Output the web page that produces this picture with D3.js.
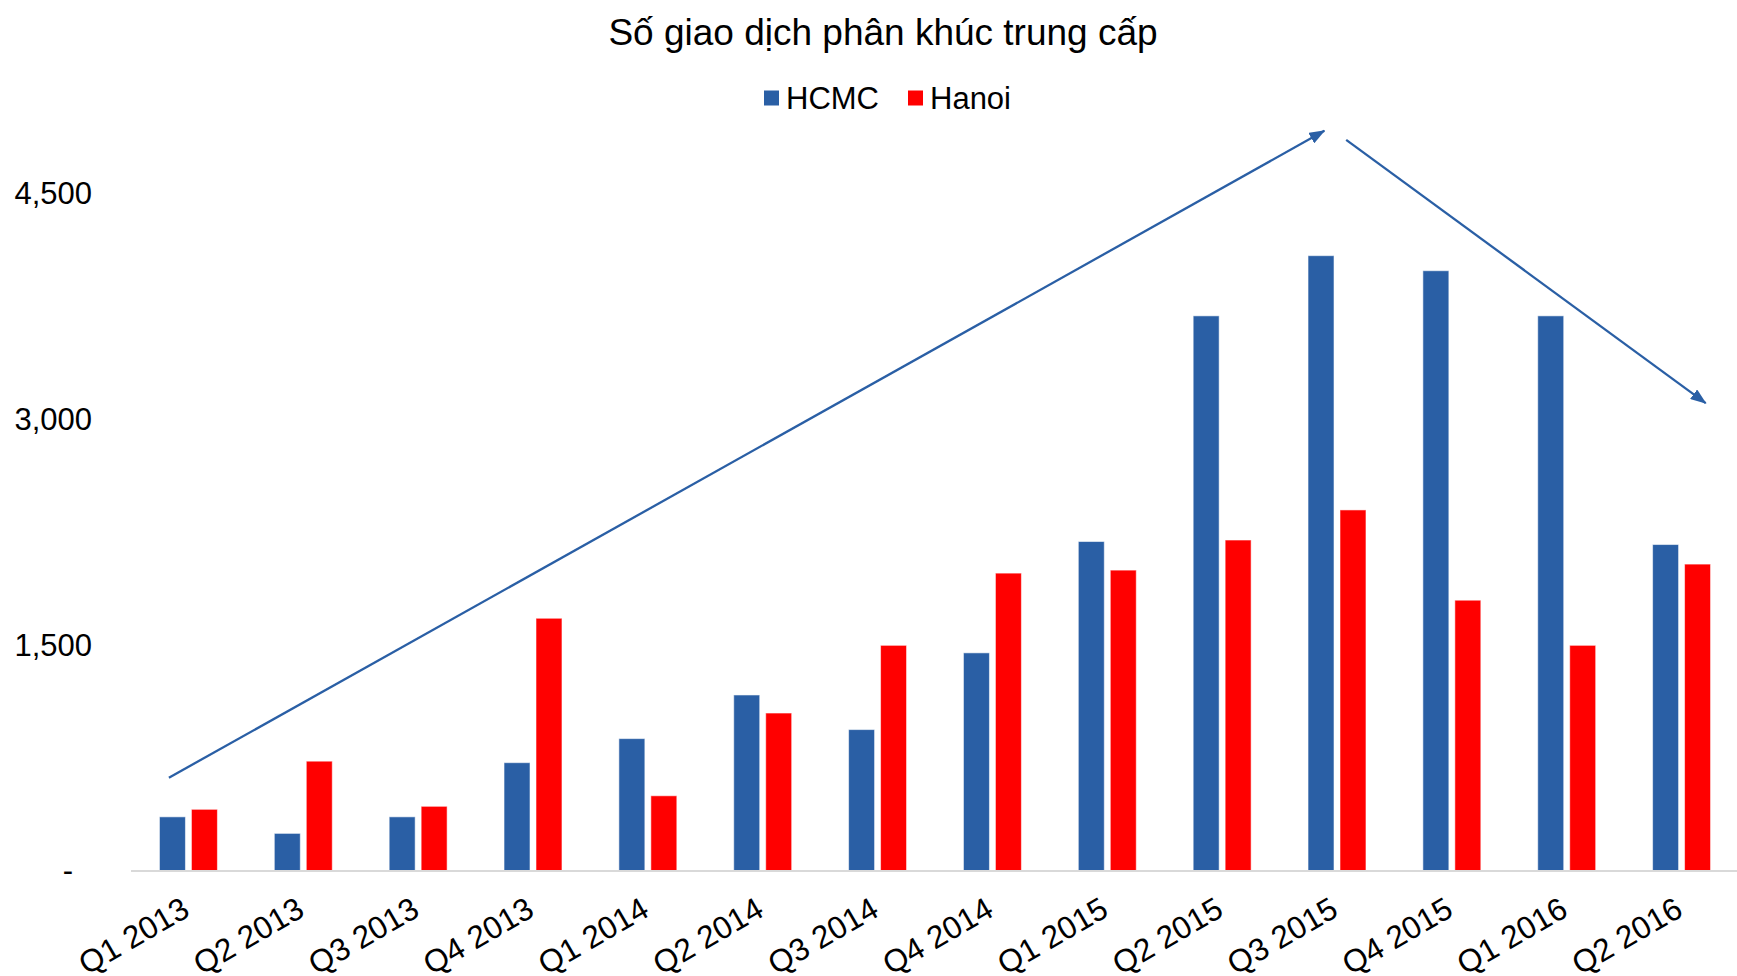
<!DOCTYPE html>
<html>
<head>
<meta charset="utf-8">
<script src="https://cdn.jsdelivr.net/npm/d3@7"></script>
<style>
  html, body { margin: 0; padding: 0; background: #fff; }
  svg { display: block; font-family: "Liberation Sans", Arial, sans-serif; }
</style>
</head>
<body>
<svg id="chart" width="1737" height="976"></svg>
<script>
// Quarterly mid-range transactions
const quarters = ["Q1 2013", "Q2 2013", "Q3 2013", "Q4 2013", "Q1 2014", "Q2 2014", "Q3 2014",
                  "Q4 2014", "Q1 2015", "Q2 2015", "Q3 2015", "Q4 2015", "Q1 2016", "Q2 2016"];
const seriesNames = ["HCMC", "Hanoi"];
const hcmc  = [360, 250, 360, 720, 880, 1170, 940, 1450, 2190, 3690, 4090, 3990, 3690, 2170];
const hanoi = [410, 730, 430, 1680, 500, 1050, 1500, 1980, 2000, 2200, 2400, 1800, 1500, 2040];
const yTicks = [0, 1500, 3000, 4500];
const titleText = "Số giao dịch phân khúc trung cấp";

// Trend arrows, given as (quarter position, value) pairs
const trendUp   = [{ q: 0.33, v: 620 },  { q: 10.39, v: 4920 }];
const trendDown = [{ q: 10.58, v: 4860 }, { q: 13.71, v: 3110 }];

const colors = { HCMC: "#2A5FA5", Hanoi: "#FF0000" };

const svg = d3.select("#chart");
const W = 1737;
const plot = { left: 131, right: 1739, top: 194, bottom: 871 };

const x0 = d3.scaleBand().domain(quarters).range([plot.left, plot.right]).padding(0);
const x1 = d3.scaleBand().domain(seriesNames).range([0, x0.bandwidth()])
  .paddingInner(0.1875).paddingOuter(0.89);
const y = d3.scaleLinear().domain([0, 4500]).range([plot.bottom, plot.top]);
const xq = d3.scaleLinear().domain([0, quarters.length]).range([plot.left, plot.right]);

const rows = quarters.map((q, i) => ({ q, HCMC: hcmc[i], Hanoi: hanoi[i] }));

// Title
svg.append("text")
  .attr("x", 883).attr("y", 45)
  .attr("text-anchor", "middle")
  .attr("font-size", 37).attr("fill", "#000")
  .text(titleText);

// Legend
const legend = svg.append("g").attr("transform", "translate(764,98)");
const legendX = { HCMC: 0, Hanoi: 144 };
seriesNames.forEach(name => {
  const g = legend.append("g").attr("transform", `translate(${legendX[name]},0)`);
  g.append("rect").attr("x", 0).attr("y", -7.5).attr("width", 15).attr("height", 15)
    .attr("fill", colors[name]);
  g.append("text").attr("x", 22).attr("y", 0).attr("dy", "0.35em")
    .attr("font-size", 31).attr("fill", "#000").text(name);
});

// Bars
const groups = svg.append("g").selectAll("g").data(rows).join("g")
  .attr("transform", d => `translate(${x0(d.q)},0)`);
groups.selectAll("rect")
  .data(d => seriesNames.map(s => ({ s, v: d[s] })))
  .join("rect")
  .attr("x", d => x1(d.s))
  .attr("width", x1.bandwidth())
  .attr("y", d => y(d.v))
  .attr("height", d => y(0) - y(d.v))
  .attr("fill", d => colors[d.s])
  .attr("stroke", "rgba(255,255,255,0.55)")
  .attr("stroke-width", 1);

// Category axis
const xAxis = svg.append("g").attr("transform", `translate(0,${plot.bottom})`)
  .call(d3.axisBottom(x0).tickSize(0).tickPadding(0));
xAxis.select(".domain").attr("stroke", "#D9D9D9").attr("stroke-width", 2)
  .attr("d", `M${plot.left},0H${W}`);
xAxis.selectAll(".tick text")
  .attr("font-size", 31.5).attr("fill", "#000")
  .attr("font-family", "Liberation Sans, Arial, sans-serif")
  .attr("text-anchor", "end")
  .attr("dy", 0).attr("y", 0)
  .attr("transform", "translate(3,44) rotate(-30)");

// Value axis (labels only)
const yAxis = svg.append("g").attr("transform", `translate(92,0)`)
  .call(d3.axisLeft(y).tickValues(yTicks).tickSize(0).tickPadding(0)
    .tickFormat(d => d === 0 ? "-" : d3.format(",")(d)));
yAxis.select(".domain").remove();
yAxis.selectAll(".tick text")
  .attr("font-size", 31).attr("fill", "#000")
  .attr("font-family", "Liberation Sans, Arial, sans-serif")
  .attr("x", d => d === 0 ? -19 : 0);

// Trend arrows
const arrowColor = "#2A5FA5";
svg.append("defs").append("marker")
  .attr("id", "head")
  .attr("viewBox", "0 0 16 12")
  .attr("refX", 15).attr("refY", 6)
  .attr("markerWidth", 16).attr("markerHeight", 12)
  .attr("markerUnits", "userSpaceOnUse")
  .attr("orient", "auto")
  .append("path").attr("d", "M0,0L16,6L0,12Z").attr("fill", arrowColor);

const line = d3.line().x(d => xq(d.q)).y(d => y(d.v));
[trendUp, trendDown].forEach(pts => {
  svg.append("path")
    .attr("d", line(pts))
    .attr("fill", "none")
    .attr("stroke", arrowColor)
    .attr("stroke-width", 2.3)
    .attr("marker-end", "url(#head)");
});
</script>
</body>
</html>
